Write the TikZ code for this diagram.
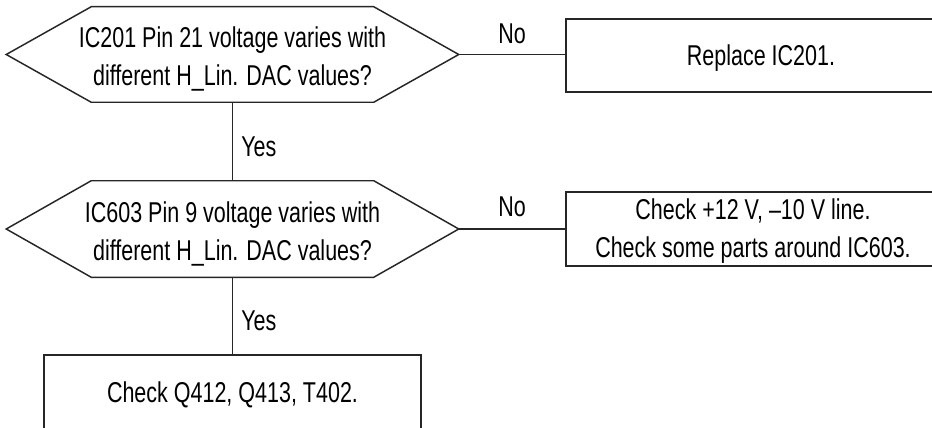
\documentclass[tikz,border=0pt]{standalone}
\usepackage{fontspec}
\setmainfont{Liberation Sans}[FakeStretch=0.75]
\usetikzlibrary{calc}
\begin{document}
\begin{tikzpicture}[x=0.75pt,y=-0.75pt,
  line/.style={draw=black!85,line width=1.1pt},
  txt/.style={font=\fontsize{21.5pt}{28.5pt}\selectfont,align=center,inner sep=0pt},
  hexcore/.style={rectangle,minimum width=211.5pt,inner sep=0pt},
  boxnode/.style={line,rectangle,inner sep=0pt},
  lbl/.style={font=\fontsize{21.5pt}{24pt}\selectfont,inner sep=0pt}]
\useasboundingbox (0,0) rectangle (932,428);
\begin{scope}
\clip (0,0) rectangle (932,428);
% decision 1
\node[hexcore,minimum height=71.25pt] (q1) at (232.5,54.5) {};
\coordinate (q1l) at ($(q1.west)+(-85,0)$);
\coordinate (q1r) at ($(q1.east)+(85,0)$);
\draw[line] (q1.north west) -- (q1.north east) -- (q1r) -- (q1.south east) -- (q1.south west) -- (q1l) -- cycle;
\node[txt] (q1t) at (232.5,59) {IC201 Pin 21 voltage varies with\\different H\_Lin. DAC values?};
% decision 2
\node[hexcore,minimum height=72pt] (q2) at (232.5,229) {};
\coordinate (q2l) at ($(q2.west)+(-85,0)$);
\coordinate (q2r) at ($(q2.east)+(85,0)$);
\draw[line] (q2.north west) -- (q2.north east) -- (q2r) -- (q2.south east) -- (q2.south west) -- (q2l) -- cycle;
\node[txt] (q2t) at (232.5,234) {IC603 Pin 9 voltage varies with\\different H\_Lin. DAC values?};
% boxes
\node[boxnode,minimum width=292.5pt,minimum height=54.75pt] (r1) at (761,55.5) {};
\node[txt] (r1t) at (761,58) {Replace IC201.};
\node[boxnode,minimum width=280.5pt,minimum height=55.5pt] (r2) at (753,229) {};
\node[txt] (r2t) at (753,231) {Check +12 V, –10 V line.\\Check some parts around IC603.};
\node[boxnode,minimum width=282.75pt,minimum height=57pt] (r3) at (232.5,393) {};
\node[txt] (r3t) at (232.5,395) {Check Q412, Q413, T402.};
% connectors
\draw[line] (q1r) -- (q1r -| r1.west);
\draw[line] (q2r) -- (q2r -| r2.west);
\draw[line] (q1.south) -- (q2.north);
\draw[line] (q2.south) -- (r3.north);
% labels
\node[lbl] (no1) at (512,34) {No};
\node[lbl] (no2) at (512,207) {No};
\node[lbl,anchor=west] (yes1) at (241,147) {Yes};
\node[lbl,anchor=west] (yes2) at (241,321) {Yes};
\end{scope}
\end{tikzpicture}
\end{document}
